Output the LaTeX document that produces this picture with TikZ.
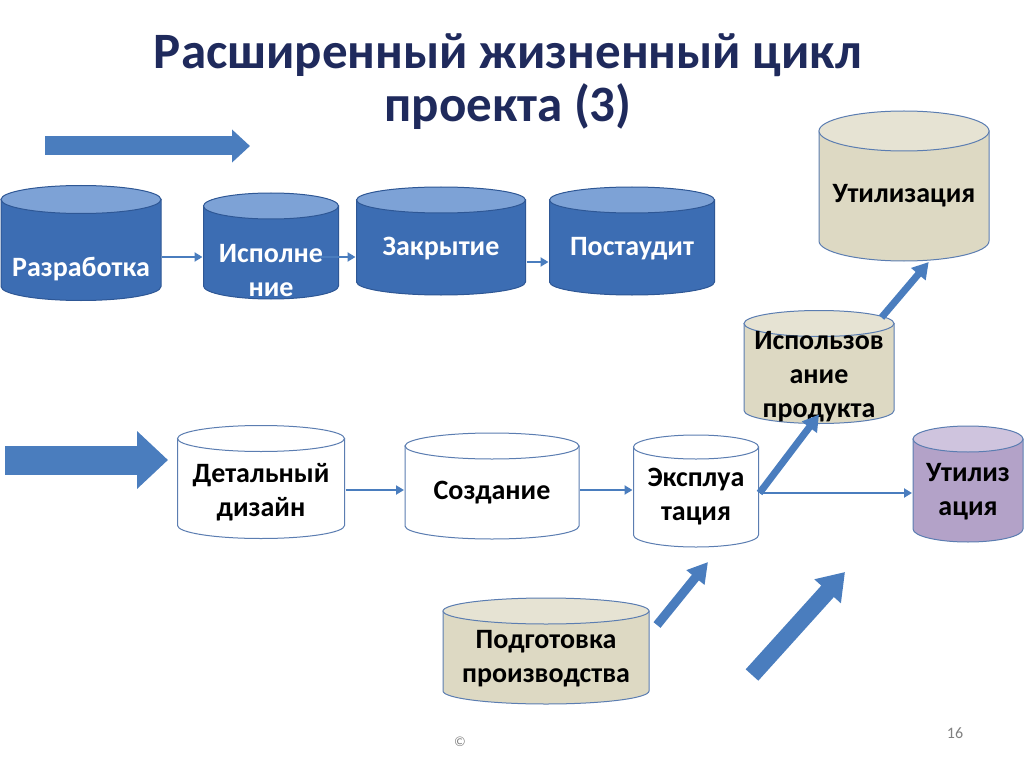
\documentclass[tikz,border=0pt]{standalone}
\usepackage{fontspec}
\setmainfont{Carlito}
\usetikzlibrary{arrows.meta,calc}

\definecolor{titlenavy}{HTML}{1F2A5C}
\definecolor{cylblue}{HTML}{3C6DB3}
\definecolor{cylbluetop}{HTML}{7DA2D6}
\definecolor{cylblueline}{HTML}{2E5795}
\definecolor{cylbeige}{HTML}{DDD9C3}
\definecolor{cylbeigetop}{HTML}{E6E3D3}
\definecolor{cylline}{HTML}{5B7DB1}
\definecolor{cyllilac}{HTML}{B3A2C8}
\definecolor{cylliliactop}{HTML}{CFC4DE}
\definecolor{arrowblue}{HTML}{4A7DBE}

\tikzset{
  % body colour / top colour / line colour / half height of the end ellipse
  drum/.style n args={4}{rectangle,inner sep=0pt,outer sep=0pt,fill=white,
    path picture={
      \draw[fill=#1,draw=#3,line width=1pt]
        let \p1=(path picture bounding box.north west),\p2=(path picture bounding box.south east),
            \n1={(\x2-\x1)/2-1pt},\n2={#4} in
        (\x1+1pt,\y1-1pt-\n2) -- (\x1+1pt,\y2+1pt+\n2)
        arc[start angle=180,end angle=360,x radius=\n1,y radius=\n2]
        -- (\x2-1pt,\y1-1pt-\n2) -- cycle;
      \draw[fill=#2,draw=#3,line width=1pt]
        let \p1=(path picture bounding box.north west),\p2=(path picture bounding box.south east),
            \n1={(\x2-\x1)/2-1pt},\n2={#4} in
        ({(\x1+\x2)/2},\y1-1pt-\n2) ellipse[x radius=\n1,y radius=\n2];
    }},
  txt/.style={align=center,inner sep=0pt,font=\bfseries\fontsize{28}{34}\selectfont}
}

\begin{document}
\begin{tikzpicture}[x=1pt,y=-1pt,
  bluecyl/.style={drum={cylblue}{cylbluetop}{cylblueline}{#1}},
  beigecyl/.style={drum={cylbeige}{cylbeigetop}{cylline}{#1}},
  whitecyl/.style={drum={white}{white}{cylline}{#1}},
  lilaccyl/.style={drum={cyllilac}{cylliliactop}{cylline}{#1}},
  link/.style={draw=arrowblue,line width=2.5pt,-{Triangle[length=8pt,width=9pt]}},
  fat/.style={draw=arrowblue,line width=#1}]
\useasboundingbox (0,0) rectangle (1024,767);

% title
\node[text=titlenavy,font=\bfseries\fontsize{51}{53}\selectfont,align=center] (title) at (508,82)
  {Расширенный жизненный цикл\\проекта (3)};

% upper row
\node[bluecyl=14pt,minimum width=162pt,minimum height=117pt,
  label={[txt,text=white,name=razr-t,yshift=-26pt]center:Разработка}] (razr) at (81,243) {};
\node[bluecyl=13pt,minimum width=137pt,minimum height=108pt,
  label={[txt,text=white,name=ispol-t,yshift=-25pt]center:Исполне\\ние}] (ispol) at (271,246) {};
\node[bluecyl=13pt,minimum width=171pt,minimum height=110pt,
  label={[txt,text=white,name=zakr-t,yshift=-8pt]center:Закрытие}] (zakr) at (441,241) {};
\node[bluecyl=13pt,minimum width=167pt,minimum height=110pt,
  label={[txt,text=white,name=post-t,yshift=-8pt]center:Постаудит}] (post) at (632,241) {};

% right column
\node[beigecyl=20pt,minimum width=172pt,minimum height=152pt,
  label={[txt,name=util-t,yshift=-10pt]center:Утилизация}] (util) at (904,186) {};
\node[beigecyl=13pt,minimum width=152pt,minimum height=115pt,
  label={[txt,name=uses-t,yshift=-10pt]center:Использов\\ание\\продукта}] (uses) at (819,367) {};

% lower row
\node[whitecyl=13pt,minimum width=169pt,minimum height=115pt,
  label={[txt,name=dd-t,yshift=-10pt]center:Детальный\\дизайн}] (dd) at (261,482) {};
\node[whitecyl=13pt,minimum width=176pt,minimum height=108pt,
  label={[txt,name=sozd-t,yshift=-7pt]center:Создание}] (sozd) at (492,486) {};
\node[whitecyl=12pt,minimum width=127pt,minimum height=114pt,
  label={[txt,name=expl-t,yshift=-6pt]center:Эксплуа\\тация}] (expl) at (696,491) {};
\node[lilaccyl=13pt,minimum width=112pt,minimum height=118pt,
  label={[txt,name=utilb-t,yshift=-8pt]center:Утилиз\\ация}] (utilb) at (968,484) {};
\node[beigecyl=13pt,minimum width=208pt,minimum height=108pt,
  label={[txt,name=podg-t,yshift=-8pt]center:Подготовка\\производства}] (podg) at (546,651) {};

% block arrows
\coordinate (topa) at (45,146);  \coordinate (topb) at (250,146);
\coordinate (mida) at (5,460);   \coordinate (midb) at (168,460);
\coordinate (lowa) at (657,625); \coordinate (lowb) at (708,562);
\coordinate (biga) at (752,675); \coordinate (bigb) at (845,572);
\draw[fat=19pt,-{Triangle[length=18pt,width=32pt]}] (topa) -- (topb);
\draw[fat=29pt,-{Triangle[length=31pt,width=56pt]}] (mida) -- (midb);
\draw[fat=9pt,-{Triangle[length=20pt,width=22pt]}] (lowa) -- (lowb);
\draw[fat=17pt,-{Triangle[length=26pt,width=34pt]}] (biga) -- (bigb);

% links
\draw[link] ([yshift=-14pt]razr.east) -- ([yshift=-14pt]razr.east -| ispol.west);
\draw[link] ([xshift=-20pt,yshift=-11pt]ispol.east) -- ([yshift=-11pt]ispol.east -| zakr.west);
\draw[link] ([yshift=-21pt]zakr.east) -- ([yshift=-21pt]zakr.east -| post.west);
\draw[link] ([yshift=-8pt]dd.east) -- ([yshift=-8pt]dd.east -| sozd.west);
\draw[link] ([yshift=-4pt]sozd.east) -- ([yshift=-4pt]sozd.east -| expl.west);
\draw[link] ([yshift=-2pt]expl.east) -- ([yshift=-2pt]expl.east -| utilb.west);
\draw[fat=7pt,-{Triangle[length=16pt,width=18pt]}] ([yshift=-2pt]expl.east) -- ([yshift=10pt]uses.south);
\draw[fat=7pt,-{Triangle[length=16pt,width=18pt]}] ([xshift=-6pt,yshift=-8pt]uses.40) -- (util.-72);

% footer
\node[text=gray,font=\fontsize{14}{16}\selectfont] (copy) at (460,742) {©};
\node[text=gray,font=\fontsize{16}{18}\selectfont] (page) at (955,733) {16};
\end{tikzpicture}
\end{document}
